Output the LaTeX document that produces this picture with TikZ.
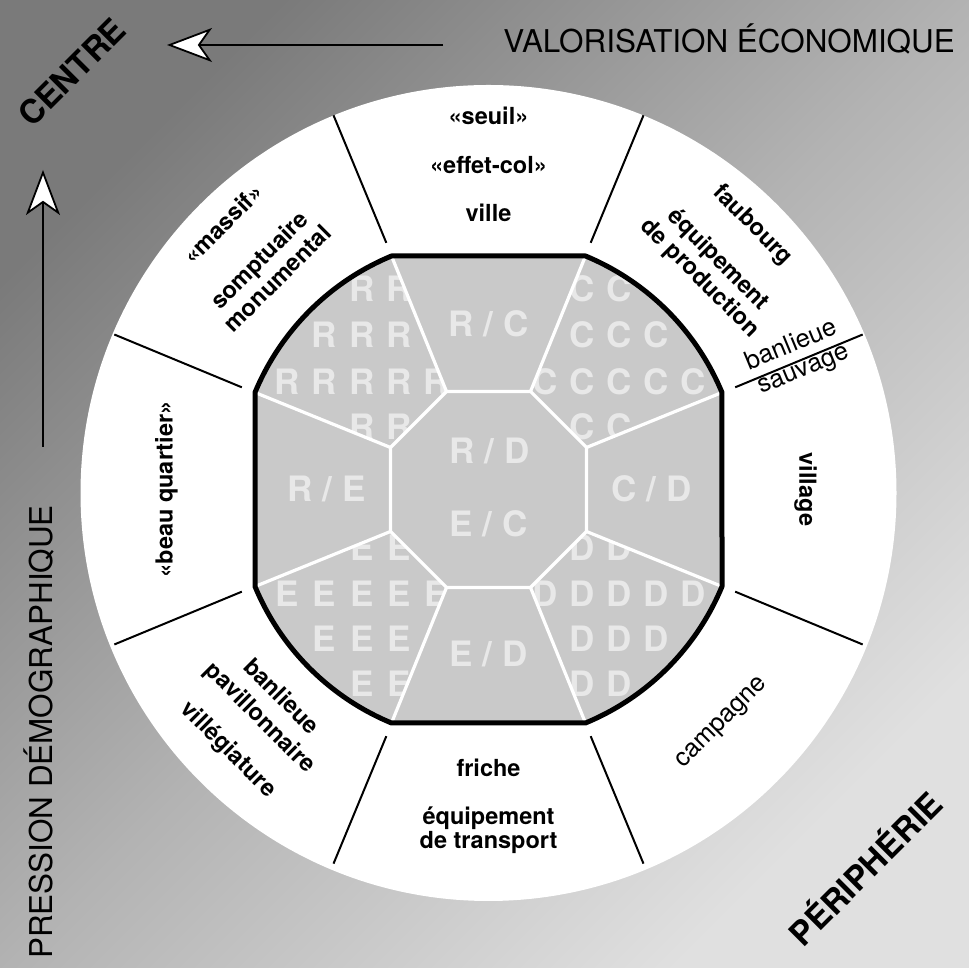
\documentclass[tikz,border=0pt]{standalone}
\usepackage{fontspec}
\setmainfont{TeX Gyre Heros}
\usetikzlibrary{arrows.meta,calc}
\newcommand{\octpath}{(T1) -- (T2) arc[start angle=67.44,end angle=22.56,radius=252.8] -- (R2) arc[start angle=-22.56,end angle=-67.44,radius=252.8] -- (B1) arc[start angle=-112.56,end angle=-157.44,radius=252.8] -- (L1) arc[start angle=157.44,end angle=112.56,radius=252.8] -- cycle}
\begin{document}
\begin{tikzpicture}[x=1pt,y=1pt,
  ringb/.style={font=\fontsize{23.5}{25}\selectfont\bfseries, text height=0.75em, text depth=0.22em, inner sep=0pt, anchor=center},
  ringr/.style={font=\fontsize{25.5}{26}\selectfont, text height=0.75em, text depth=0.22em, inner sep=0pt, anchor=center},
  gridletter/.style={font=\fontsize{35}{35}\selectfont\bfseries, text=black!9, inner sep=0pt, anchor=center},
  seprule/.style={line width=2pt, black},
  cellline/.style={line width=3.2pt, white, line join=round},
  octborder/.style={line width=5pt, black, line join=round},
  bigarrow/.style={line width=1.8pt, -{Stealth[length=45pt, width=34pt, inset=12pt, open, fill=white]}},
  cornerlabel/.style={font=\fontsize{33}{33}\selectfont\bfseries, text height=0.72em, text depth=0pt, inner sep=0pt, rotate=45},
  axislabel/.style={font=\fontsize{31.4}{32}\selectfont, inner sep=0pt, anchor=base}
]
\useasboundingbox (0,0) rectangle (969,968);
\shade[shading=axis, top color=black!52, bottom color=black!12, middle color=black!30, shading angle=45] (0,0) rectangle (969,968);

\coordinate (O) at (488.5,478.5);
\fill[white] (488.5,475) circle[radius=408];

% separators
\foreach \a [count=\i] in {22.5,67.5,112.5,157.5,202.5,247.5,292.5,337.5}{
  \coordinate (s\i a) at ($(O)+(\a:267)$);
  \coordinate (s\i b) at ($(O)+(\a:405)$);
  \draw[seprule] (s\i a) -- (s\i b);
}

% octagon points
\coordinate (T1) at ($(O)+(-97,233.5)$);
\coordinate (T2) at ($(O)+(97,233.5)$);
\coordinate (R1) at ($(O)+(233.5,97)$);
\coordinate (R2) at ($(O)+(233.5,-97)$);
\coordinate (B2) at ($(O)+(97,-233.5)$);
\coordinate (B1) at ($(O)+(-97,-233.5)$);
\coordinate (L2) at ($(O)+(-233.5,-97)$);
\coordinate (L1) at ($(O)+(-233.5,97)$);
\coordinate (i1) at ($(O)+(-42,98)$);
\coordinate (i2) at ($(O)+(42,98)$);
\coordinate (i3) at ($(O)+(98,42)$);
\coordinate (i4) at ($(O)+(98,-42)$);
\coordinate (i5) at ($(O)+(42,-98)$);
\coordinate (i6) at ($(O)+(-42,-98)$);
\coordinate (i7) at ($(O)+(-98,-42)$);
\coordinate (i8) at ($(O)+(-98,42)$);

\fill[black!21] \octpath;

% letter grids
\begin{scope}
\clip (T1) -- (i1) -- (i8) -- (L1) arc[start angle=157.44,end angle=112.56,radius=252.8] -- cycle;
\foreach \x/\y [count=\k] in {-126.5/201,-89.5/201,-164.5/155,-126.5/155,-89.5/155,-201.5/108,-164.5/108,-126.5/108,-89.5/108,-52.5/108,-126.5/63,-89.5/63}
    \node[gridletter] (rk\k) at ($(O)+(\x,\y)$) {R};
\end{scope}
\begin{scope}
\clip (T2) -- (i2) -- (i3) -- (R1) arc[start angle=22.56,end angle=67.44,radius=252.8] -- cycle;
\foreach \x/\y [count=\k] in {93.5/201,130.5/201,93.5/155,130.5/155,167.5/155,56.5/108,93.5/108,130.5/108,167.5/108,204.5/108,93.5/63,130.5/63}
    \node[gridletter] (ck\k) at ($(O)+(\x,\y)$) {C};
\end{scope}
\begin{scope}
\clip (R2) -- (i4) -- (i5) -- (B2) arc[start angle=-67.44,end angle=-22.56,radius=252.8] -- cycle;
\foreach \x/\y [count=\k] in {93.5/-58,130.5/-58,56.5/-104,93.5/-104,130.5/-104,167.5/-104,204.5/-104,93.5/-149,130.5/-149,167.5/-149,93.5/-194,130.5/-194}
    \node[gridletter] (dk\k) at ($(O)+(\x,\y)$) {D};
\end{scope}
\begin{scope}
\clip (B1) -- (i6) -- (i7) -- (L2) arc[start angle=-157.44,end angle=-112.56,radius=252.8] -- cycle;
\foreach \x/\y [count=\k] in {-126.5/-58,-89.5/-58,-201.5/-104,-164.5/-104,-126.5/-104,-89.5/-104,-52.5/-104,-164.5/-149,-126.5/-149,-89.5/-149,-126.5/-194,-89.5/-194}
    \node[gridletter] (ek\k) at ($(O)+(\x,\y)$) {E};
\end{scope}

% mixed labels
\node[gridletter] (rc) at ($(O)+(0,166)$) {R / C};
\node[gridletter] (ed) at ($(O)+(0,-164)$) {E / D};
\node[gridletter] (cd) at ($(O)+(163,1)$) {C / D};
\node[gridletter] (re) at ($(O)+(-162,1)$) {R / E};
\node[gridletter] (rd) at ($(O)+(1,39)$) {R / D};
\node[gridletter] (ec) at ($(O)+(0,-34)$) {E / C};

% white cell lines
\draw[cellline] (i1) -- (i2) -- (i3) -- (i4) -- (i5) -- (i6) -- (i7) -- (i8) -- cycle;
\draw[cellline] (T1) -- (i1);
\draw[cellline] (T2) -- (i2);
\draw[cellline] (R1) -- (i3);
\draw[cellline] (R2) -- (i4);
\draw[cellline] (B2) -- (i5);
\draw[cellline] (B1) -- (i6);
\draw[cellline] (L2) -- (i7);
\draw[cellline] (L1) -- (i8);

\draw[octborder] \octpath;

% ring texts
\node[ringb] (seuil) at ($(O)+(90:367.7)$) {«seuil»};
\node[ringb] (effet) at ($(O)+(90:318.7)$) {«effet-col»};
\node[ringb] (ville) at ($(O)+(90:270.7)$) {ville};

\node[ringb, rotate=-45] (faub) at ($(O)+(45:369.8)$) {faubourg};
\node[ringb, rotate=-45] (equip1) at ($(O)+(45:321)$) {équipement};
\node[ringb, rotate=-45] (prod) at ($(O)+(45:295)$) {de production};

\node[ringr, rotate=22.5] (banl1) at ($(O)+(22.5:335)+(112.5:12.8)$) {banlieue};
\node[ringr, rotate=22.5] (sauv) at ($(O)+(22.5:337)+(292.5:13.6)$) {sauvage};

\node[ringb, rotate=-90] (village) at ($(O)+(0:313.5)$) {village};
\node[ringr, rotate=45] (camp) at ($(O)+(-45:333)$) {campagne};

\node[ringb] (friche) at ($(O)+(-90:284.3)$) {friche};
\node[ringb] (equip2) at ($(O)+(-90:332.3)$) {équipement};
\node[ringb] (transp) at ($(O)+(-90:356.3)$) {de transport};

\node[ringb, rotate=-45] (banl2) at ($(O)+(225:297.7)$) {banlieue};
\node[ringb, rotate=-45] (pav) at ($(O)+(225:327.4)$) {pavillonnaire};
\node[ringb, rotate=-45] (villeg) at ($(O)+(225:372)$) {villégiature};

\node[ringb, rotate=90] (beau) at ($(O)+(180:318.5)$) {«beau quartier»};

\node[ringb, rotate=45] (massif) at ($(O)+(135:369.8)$) {«massif»};
\node[ringb, rotate=45] (sompt) at ($(O)+(135:318.9)$) {somptuaire};
\node[ringb, rotate=45] (monu) at ($(O)+(135:292.7)$) {monumental};

% arrows
\coordinate (hs) at (443,923);
\coordinate (he) at (167,923);
\draw[bigarrow] (hs) -- (he);
\coordinate (vs) at (43,521);
\coordinate (ve) at (43,798);
\draw[bigarrow] (vs) -- (ve);

% outer labels
\node[cornerlabel] (centre) at (78,890) {CENTRE};
\node[cornerlabel] (peri) at (872,93) {PÉRIPHÉRIE};
\node[axislabel] (valo) at (729,915) {VALORISATION ÉCONOMIQUE};
\node[axislabel, rotate=90] (press) at (52,236) {PRESSION DÉMOGRAPHIQUE};
\end{tikzpicture}
\end{document}
